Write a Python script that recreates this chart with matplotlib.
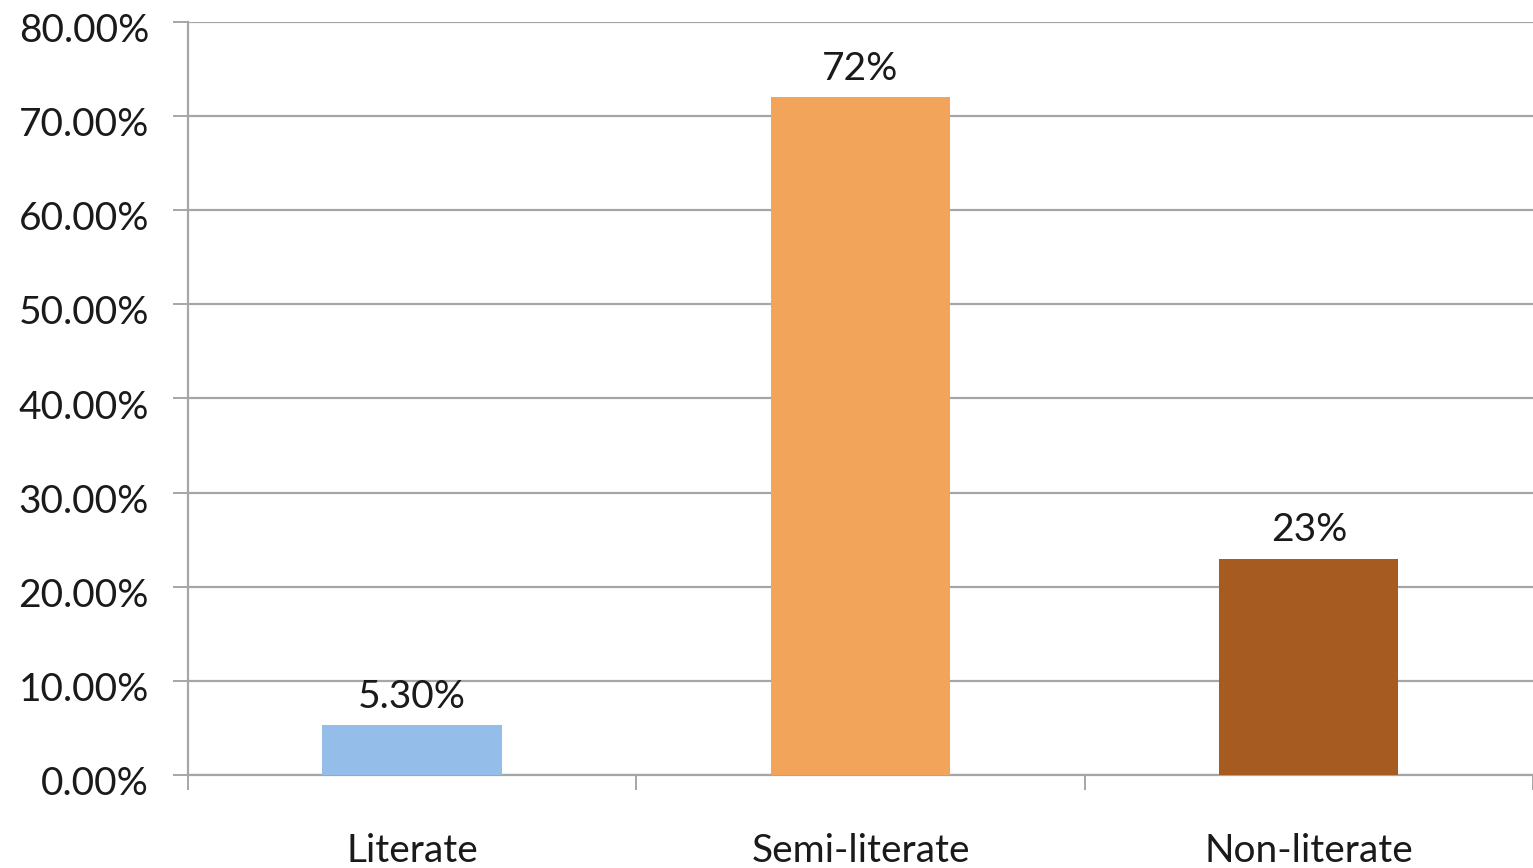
import matplotlib.pyplot as plt
import matplotlib.transforms as mtransforms
from matplotlib.ticker import FuncFormatter

# literacy levels and their shares (%)
categories = ["Literate", "Semi-literate", "Non-literate"]
shares = [5.3, 72, 23]
value_labels = ["5.30%", "72%", "23%"]
colors = ["#95bde9", "#f2a55a", "#a65c20"]

plt.rcParams["font.family"] = ["Lato", "DejaVu Sans"]
TEXT = "#1a1a1a"
GRID = "#a6a6a6"

fig = plt.figure(figsize=(15.33, 8.68), dpi=100)
ax = fig.add_axes([0.1226, 0.1071, 0.8774, 0.8676])

x = range(len(categories))
bars = ax.bar(x, shares, width=0.4, color=colors, zorder=3)

for bar, label in zip(bars, value_labels):
    ax.text(bar.get_x() + bar.get_width() / 2, bar.get_height() + 1.1, label,
            ha="center", va="bottom", fontsize=28, color=TEXT)

ax.set_xlim(-0.5, 2.5)
ax.set_ylim(0, 80)
ax.set_yticks(range(0, 81, 10))
ax.yaxis.set_major_formatter(FuncFormatter(lambda v, p: f"{v:.2f}%"))
ax.grid(axis="y", color=GRID, linewidth=1.6, zorder=0)

# category labels sit between the boundary ticks
ax.set_xticks([-0.5, 0.5, 1.5, 2.5])
ax.set_xticklabels([])
ax.set_xticks(list(x), minor=True)
ax.set_xticklabels(categories, minor=True)
ax.tick_params(axis="x", which="major", length=11, width=1.4, color=GRID)
ax.tick_params(axis="x", which="minor", length=0, pad=42, labelsize=28, labelcolor=TEXT)
ax.tick_params(axis="y", length=11, width=1.4, color=GRID, pad=17,
               labelsize=28, labelcolor=TEXT)

# y labels sit a touch below their gridlines
shift = mtransforms.ScaledTranslation(0, -4 / 72, fig.dpi_scale_trans)
for lbl in ax.get_yticklabels():
    lbl.set_transform(lbl.get_transform() + shift)

for side in ["top", "right"]:
    ax.spines[side].set_visible(False)
for side in ["left", "bottom"]:
    ax.spines[side].set_color(GRID)
    ax.spines[side].set_linewidth(1.6)

fig.savefig("out.png", dpi=100)
